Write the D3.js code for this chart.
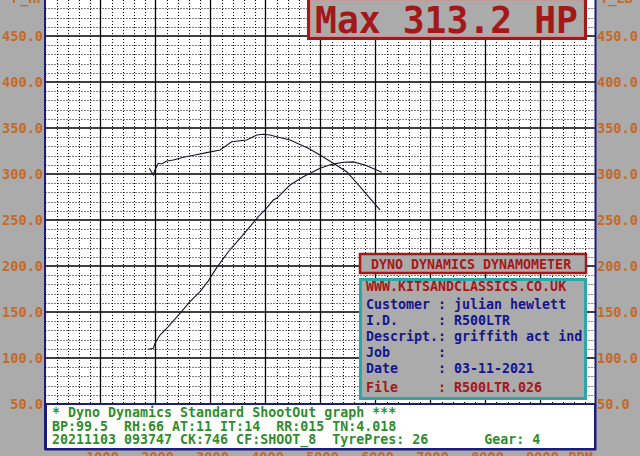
<!DOCTYPE html>
<html>
<head>
<meta charset="utf-8">
<script src="https://cdn.jsdelivr.net/npm/d3@7/dist/d3.min.js"></script>
<style>
body { margin: 0; background: #ababab; }
svg { display: block; }
text { font-family: "DejaVu Sans Mono", "Liberation Mono", monospace; font-weight: bold; white-space: pre; }
</style>
</head>
<body>
<div id="dyno"></div>
<script>
// power curve (HP)
var powerRpm = [1869, 1960, 1991, 2082, 2233, 2445, 2627, 2809, 2960, 3113, 3324, 3536, 3718, 3869, 3991, 4142, 4204, 4445, 4687, 4991, 5204, 5415, 5596, 5809, 6113];
var powerHp = [109.5, 110.5, 116.0, 125.0, 134.0, 148.6, 161.2, 172.1, 183.9, 198.2, 215.5, 230.1, 242.7, 253.6, 260.9, 271.7, 273.6, 288.0, 297.1, 306.2, 310.5, 312.7, 313.2, 309.8, 301.8];

// torque curve
var torqueRpm = [1887, 1960, 1991, 2051, 2113, 2204, 2324, 2505, 2718, 2931, 3173, 3385, 3658, 3840, 3960, 4082, 4204, 4445, 4778, 4991, 5233, 5476, 5718, 5900, 6082];
var torqueVal = [306.2, 298.9, 304.3, 311.6, 310.9, 314.1, 315.2, 318.2, 320.7, 323.2, 326.1, 335.1, 337.0, 342.4, 343.2, 342.4, 340.5, 337.0, 327.9, 320.7, 311.6, 302.5, 286.2, 273.6, 260.9];

var valueTicks = [50, 100, 150, 200, 250, 300, 350, 400, 450];
var rpmTicks = [1000, 2000, 3000, 4000, 5000, 6000, 7000, 8000, 9000];

var titleText = "Max 313.2 HP";
var boxTitle = "DYNO DYNAMICS DYNAMOMETER";
var infoLines = [
	"WWW.KITSANDCLASSICS.CO.UK",
	"Customer : julian hewlett",
	"I.D.     : R500LTR",
	"Descript.: griffith act ind",
	"Job      :",
	"Date     : 03-11-2021",
	"File     : R500LTR.026"
];
var footerLines = [
	"* Dyno Dynamics Standard ShootOut graph ***",
	"BP:99.5  RH:66 AT:11 IT:14  RR:015 TN:4.018",
	"20211103 093747 CK:746 CF:SHOOT_8  TyrePres: 26       Gear: 4"
];

var width = 640,
	height = 456;

var labelColor = "#c46a28",
	red = "#a31818",
	navy = "#16168a",
	green = "#2e8e2e",
	gray = "#ababab";

var xScale = d3.scaleLinear().domain([0, 10000]).range([45.5, 595.5]);
var yScale = d3.scaleLinear().domain([0, 500]).range([450, -10]);

var svg = d3.select("#dyno")
	.append("svg")
	.attr("width", width)
	.attr("height", height);

svg.append("rect")
	.attr("width", width)
	.attr("height", height)
	.attr("fill", gray);

// plot area
svg.append("rect")
	.attr("x", xScale(0))
	.attr("y", 0)
	.attr("width", xScale(10000) - xScale(0))
	.attr("height", yScale(0))
	.attr("fill", "#fff");

// minor grid, dotted
var grid = svg.append("g");
grid.selectAll(".minor-x")
	.data(d3.range(200, 10000, 200).filter(function(d) { return d % 1000 != 0; }))
	.enter()
	.append("line")
	.attr("x1", function(d) { return Math.round(xScale(d)) + 0.5; })
	.attr("x2", function(d) { return Math.round(xScale(d)) + 0.5; })
	.attr("y1", 0)
	.attr("y2", yScale(0))
	.attr("stroke", "#000")
	.attr("stroke-dasharray", "1,2");

grid.selectAll(".minor-y")
	.data(d3.range(10, 500, 10).filter(function(d) { return d % 50 != 0; }))
	.enter()
	.append("line")
	.attr("x1", xScale(0))
	.attr("x2", xScale(10000))
	.attr("y1", function(d) { return Math.round(yScale(d)) + 0.5; })
	.attr("y2", function(d) { return Math.round(yScale(d)) + 0.5; })
	.attr("stroke", "#000")
	.attr("stroke-dasharray", "1,2");

// major grid
grid.selectAll(".major-x")
	.data(rpmTicks)
	.enter()
	.append("line")
	.attr("x1", function(d) { return xScale(d); })
	.attr("x2", function(d) { return xScale(d); })
	.attr("y1", 0)
	.attr("y2", yScale(0))
	.attr("stroke", "#000")
	.attr("stroke-width", 1.3);

grid.selectAll(".major-y")
	.data(valueTicks)
	.enter()
	.append("line")
	.attr("x1", xScale(0))
	.attr("x2", xScale(10000))
	.attr("y1", function(d) { return yScale(d); })
	.attr("y2", function(d) { return yScale(d); })
	.attr("stroke", "#000")
	.attr("stroke-width", 1.3);

// curves
var line = d3.line()
	.x(function(d) { return xScale(d[0]); })
	.y(function(d) { return yScale(d[1]); });

svg.append("path")
	.datum(d3.zip(powerRpm, powerHp))
	.attr("d", line)
	.attr("fill", "none")
	.attr("stroke", "#14142e")
	.attr("stroke-width", 1.1);

svg.append("path")
	.datum(d3.zip(torqueRpm, torqueVal))
	.attr("d", line)
	.attr("fill", "none")
	.attr("stroke", "#14142e")
	.attr("stroke-width", 1.1);

// max power title box
svg.append("rect")
	.attr("x", 308.5)
	.attr("y", -2)
	.attr("width", 277)
	.attr("height", 40.5)
	.attr("fill", gray)
	.attr("stroke", red)
	.attr("stroke-width", 3);
svg.append("rect")
	.attr("x", 310.5)
	.attr("y", 0)
	.attr("width", 273)
	.attr("height", 36.5)
	.attr("fill", "none")
	.attr("stroke", "#d98a8a")
	.attr("stroke-width", 1);
svg.append("text")
	.attr("x", 315)
	.attr("y", 33)
	.attr("fill", red)
	.style("font-size", "37px")
	.attr("textLength", 263)
	.attr("lengthAdjust", "spacingAndGlyphs")
	.text(titleText);

// dynamometer header box
svg.append("rect")
	.attr("x", 360)
	.attr("y", 254)
	.attr("width", 226)
	.attr("height", 19)
	.attr("fill", gray)
	.attr("stroke", red)
	.attr("stroke-width", 2.5);
svg.append("text")
	.attr("x", 371)
	.attr("y", 268.5)
	.attr("fill", red)
	.style("font-size", "13.3px")
	.text(boxTitle);

// info box
svg.append("rect")
	.attr("x", 360.5)
	.attr("y", 279.5)
	.attr("width", 225)
	.attr("height", 119)
	.attr("fill", gray)
	.attr("stroke", "#2fa6a6")
	.attr("stroke-width", 3);
var infoY = [291, 309, 325, 341, 357, 373, 392];
svg.selectAll(".info")
	.data(infoLines)
	.enter()
	.append("text")
	.attr("x", 366)
	.attr("y", function(d, i) { return infoY[i]; })
	.attr("fill", function(d, i) { return (i == 0 || i == infoLines.length - 1) ? red : navy; })
	.style("font-size", "13.3px")
	.text(function(d) { return d; });

// footer text box
svg.append("rect")
	.attr("x", 46)
	.attr("y", 404)
	.attr("width", 549)
	.attr("height", 45)
	.attr("fill", "#fff")
	.attr("stroke", "#1c1c7c")
	.attr("stroke-width", 2);
svg.selectAll(".footer")
	.data(footerLines)
	.enter()
	.append("text")
	.attr("x", 52)
	.attr("y", function(d, i) { return 417 + i * 13.5; })
	.attr("fill", green)
	.style("font-size", "13.3px")
	.text(function(d) { return d; });

// frame
svg.append("line").attr("x1", 45).attr("x2", 45).attr("y1", 0).attr("y2", 450)
	.attr("stroke", "#1a1a80").attr("stroke-width", 2);
svg.append("line").attr("x1", 595.5).attr("x2", 595.5).attr("y1", 0).attr("y2", 450)
	.attr("stroke", "#1a1a80").attr("stroke-width", 2);
svg.append("line").attr("x1", 45).attr("x2", 596).attr("y1", 449.5).attr("y2", 449.5)
	.attr("stroke", "#1a1a80").attr("stroke-width", 2);

// axis labels
svg.selectAll(".left-label")
	.data(valueTicks)
	.enter()
	.append("text")
	.attr("x", 43)
	.attr("y", function(d) { return yScale(d) + 5; })
	.attr("text-anchor", "end")
	.attr("fill", labelColor)
	.style("font-size", "13.6px")
	.text(function(d) { return d3.format(".1f")(d); });

svg.selectAll(".right-label")
	.data(valueTicks)
	.enter()
	.append("text")
	.attr("x", 597)
	.attr("y", function(d) { return yScale(d) + 5; })
	.attr("fill", labelColor)
	.style("font-size", "13.6px")
	.text(function(d) { return d3.format(".1f")(d); });

svg.append("text").attr("x", 12).attr("y", 2.5).attr("fill", labelColor)
	.style("font-size", "13.6px").text("P_HP");
svg.append("text").attr("x", 600).attr("y", 2.5).attr("fill", labelColor)
	.style("font-size", "13.6px").text("T_LB");

svg.selectAll(".rpm-label")
	.data(rpmTicks)
	.enter()
	.append("text")
	.attr("x", function(d) { return xScale(d) + 2; })
	.attr("y", 462)
	.attr("text-anchor", "middle")
	.attr("fill", labelColor)
	.style("font-size", "13.6px")
	.text(function(d) { return d; });
svg.append("text").attr("x", 593).attr("y", 462).attr("text-anchor", "end")
	.attr("fill", labelColor).style("font-size", "13.6px").text("RPM");
</script>
</body>
</html>
